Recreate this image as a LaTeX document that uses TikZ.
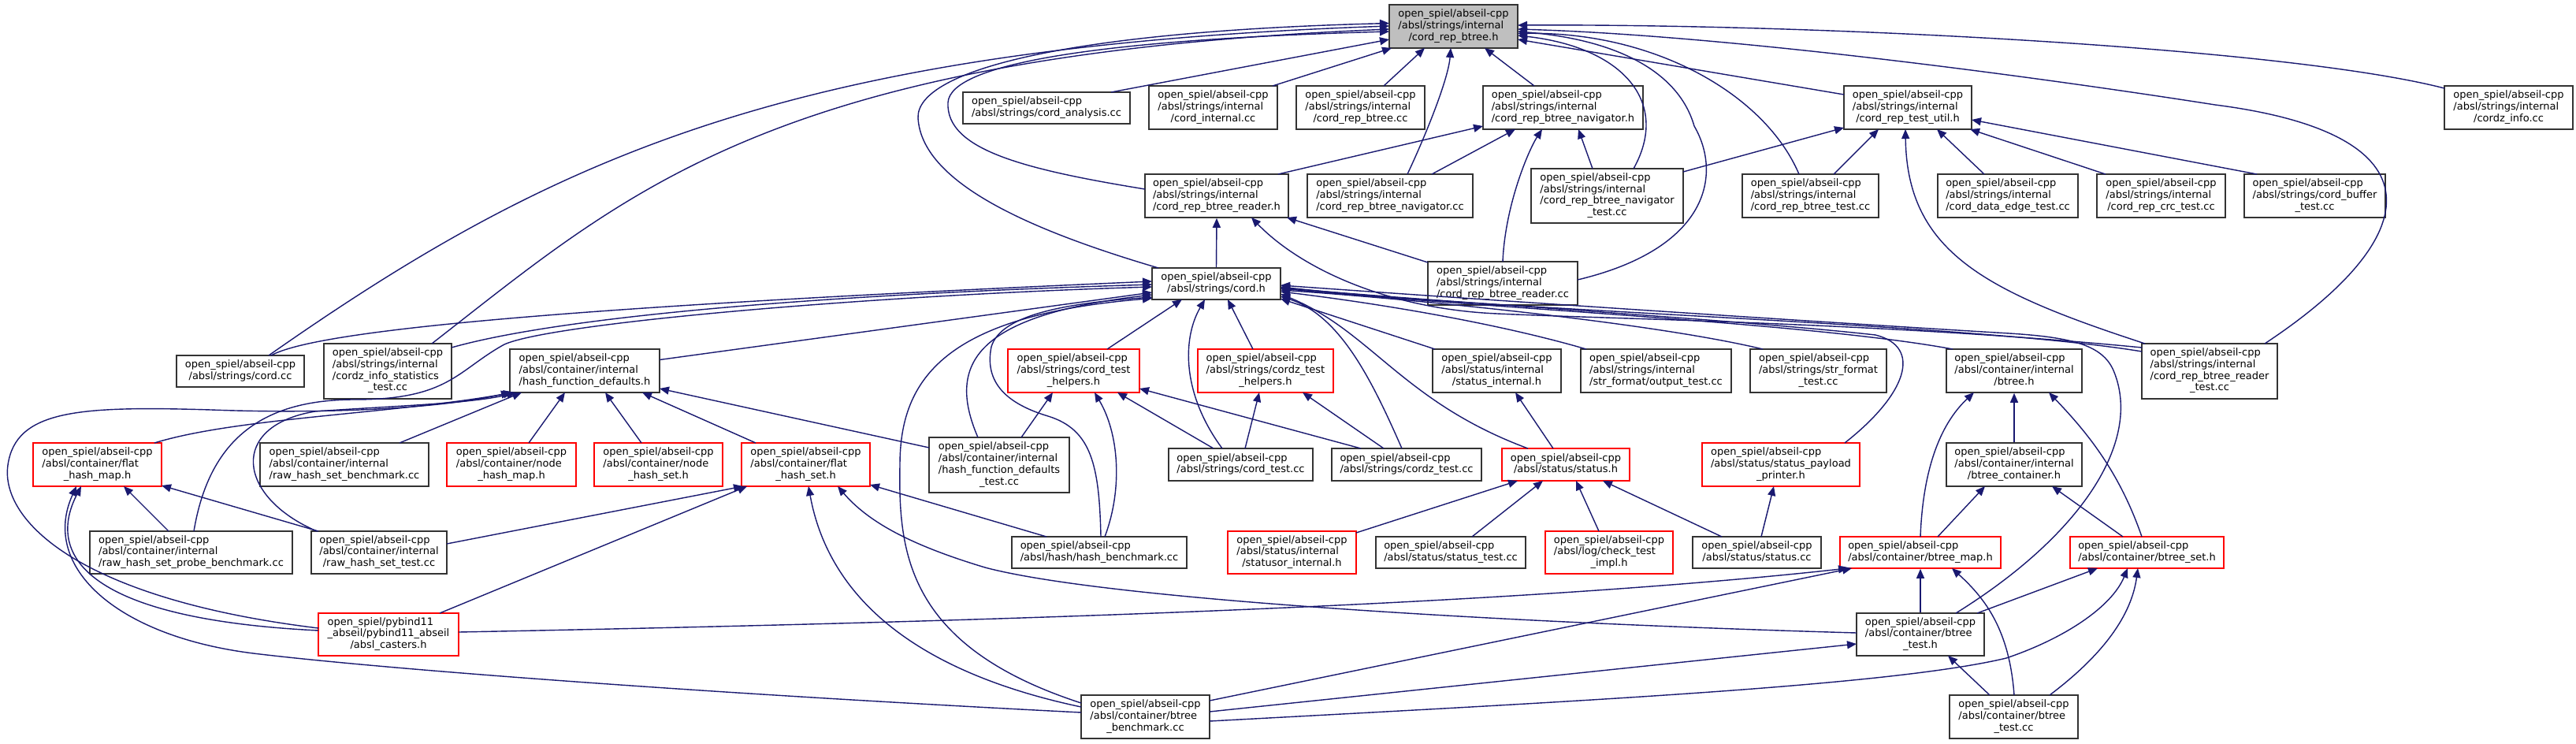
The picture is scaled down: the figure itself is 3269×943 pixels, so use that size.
\documentclass[tikz,border=0pt]{standalone}
\usepackage{fontspec}
\setmainfont{DejaVu Sans}
\usetikzlibrary{arrows.meta}
\definecolor{edgec}{HTML}{191970}
\definecolor{boxc}{HTML}{333333}
\definecolor{mainfill}{HTML}{BFBFBF}
\newcommand{\lab}[2]{\begin{tabular}{@{}l@{}}#1\\\multicolumn{1}{@{}c@{}}{#2}\end{tabular}}
\newcommand{\osa}{open\_spiel/abseil-cpp}
\newcommand{\asi}{/absl/strings/internal}
\newcommand{\aci}{/absl/container/internal}
\tikzset{
  box/.style={draw=boxc, line width=1.6pt, fill=white, inner sep=0pt, font=\fontsize{13}{14.7}\selectfont},
  rbox/.style={box, draw=red},
  conn/.style={draw=edgec, line width=1.4pt, -{Triangle[length=12pt,width=10pt]}},
}
\begin{document}
\begin{tikzpicture}[x=1pt,y=-1pt]
\fill[white] (0,0) rectangle (3269,943);
\useasboundingbox (0,0) rectangle (3269,943);
% nodes
\node[box, fill=mainfill, minimum width=163pt, minimum height=55pt] (main) at (1844.5,33.5) {\lab{\osa\\\asi}{/cord\_rep\_btree.h}};
\node[box, minimum width=212pt, minimum height=40pt] (cordanalysis) at (1328,137) {\lab{\osa}{/absl/strings/cord\_analysis.cc}};
\node[box, minimum width=163pt, minimum height=55pt] (cordinternal) at (1539.5,136.5) {\lab{\osa\\\asi}{/cord\_internal.cc}};
\node[box, minimum width=163pt, minimum height=55pt] (btreecc) at (1726.5,136.5) {\lab{\osa\\\asi}{/cord\_rep\_btree.cc}};
\node[box, minimum width=203pt, minimum height=55pt] (navh) at (1983.5,136.5) {\lab{\osa\\\asi}{/cord\_rep\_btree\_navigator.h}};
\node[box, minimum width=162pt, minimum height=55pt] (testutil) at (2421,136.5) {\lab{\osa\\\asi}{/cord\_rep\_test\_util.h}};
\node[box, minimum width=163pt, minimum height=55pt] (cordzinfo) at (3183.5,136.5) {\lab{\osa\\\asi}{/cordz\_info.cc}};
\node[box, minimum width=182pt, minimum height=55pt] (readerh) at (1544,248.5) {\lab{\osa\\\asi}{/cord\_rep\_btree\_reader.h}};
\node[box, minimum width=210pt, minimum height=55pt] (navcc) at (1764,248.5) {\lab{\osa\\\asi}{/cord\_rep\_btree\_navigator.cc}};
\node[box, minimum width=193pt, minimum height=69pt] (navtest) at (2039.5,248.5) {\lab{\osa\\\asi\\/cord\_rep\_btree\_navigator}{\_test.cc}};
\node[box, minimum width=173pt, minimum height=55pt] (btreetest) at (2297.5,248.5) {\lab{\osa\\\asi}{/cord\_rep\_btree\_test.cc}};
\node[box, minimum width=178pt, minimum height=55pt] (dataedge) at (2548,248.5) {\lab{\osa\\\asi}{/cord\_data\_edge\_test.cc}};
\node[box, minimum width=163pt, minimum height=55pt] (crctest) at (2742.5,248.5) {\lab{\osa\\\asi}{/cord\_rep\_crc\_test.cc}};
\node[box, minimum width=179pt, minimum height=55pt] (buffertest) at (2937.5,248.5) {\lab{\osa\\/absl/strings/cord\_buffer}{\_test.cc}};
\node[box, minimum width=190pt, minimum height=55pt] (readercc) at (1907,359.5) {\lab{\osa\\\asi}{/cord\_rep\_btree\_reader.cc}};
\node[box, minimum width=163pt, minimum height=40pt] (cordh) at (1543.5,360) {\lab{\osa}{/absl/strings/cord.h}};
\node[box, minimum width=162pt, minimum height=40pt] (cordcc) at (305,471) {\lab{\osa}{/absl/strings/cord.cc}};
\node[box, minimum width=162pt, minimum height=70pt] (cordzstat) at (492,471) {\lab{\osa\\\asi\\/cordz\_info\_statistics}{\_test.cc}};
\node[box, minimum width=190pt, minimum height=55pt] (hfd) at (742,470.5) {\lab{\osa\\\aci}{/hash\_function\_defaults.h}};
\node[rbox, minimum width=167pt, minimum height=55pt] (cordtesthelp) at (1362.5,470.5) {\lab{\osa\\/absl/strings/cord\_test}{\_helpers.h}};
\node[rbox, minimum width=172pt, minimum height=55pt] (cordztesthelp) at (1606,470.5) {\lab{\osa\\/absl/strings/cordz\_test}{\_helpers.h}};
\node[box, minimum width=163pt, minimum height=55pt] (statusinternal) at (1899.5,470.5) {\lab{\osa\\/absl/status/internal}{/status\_internal.h}};
\node[box, minimum width=191pt, minimum height=55pt] (outputtest) at (2101.5,470.5) {\lab{\osa\\\asi}{/str\_format/output\_test.cc}};
\node[box, minimum width=173pt, minimum height=55pt] (strformattest) at (2307.5,470.5) {\lab{\osa\\/absl/strings/str\_format}{\_test.cc}};
\node[box, minimum width=172pt, minimum height=55pt] (btreeh) at (2556,470.5) {\lab{\osa\\\aci}{/btree.h}};
\node[box, minimum width=172pt, minimum height=70pt] (readertest) at (2804,471) {\lab{\osa\\\asi\\/cord\_rep\_btree\_reader}{\_test.cc}};
\node[rbox, minimum width=163pt, minimum height=55pt] (flathashmap) at (123.5,589.5) {\lab{\osa\\/absl/container/flat}{\_hash\_map.h}};
\node[box, minimum width=214pt, minimum height=55pt] (rawbench) at (437,589.5) {\lab{\osa\\\aci}{/raw\_hash\_set\_benchmark.cc}};
\node[rbox, minimum width=164pt, minimum height=55pt] (nodehashmap) at (649,589.5) {\lab{\osa\\/absl/container/node}{\_hash\_map.h}};
\node[rbox, minimum width=163pt, minimum height=55pt] (nodehashset) at (835.5,589.5) {\lab{\osa\\/absl/container/node}{\_hash\_set.h}};
\node[rbox, minimum width=163pt, minimum height=55pt] (flathashset) at (1022.5,589.5) {\lab{\osa\\/absl/container/flat}{\_hash\_set.h}};
\node[box, minimum width=178pt, minimum height=70pt] (hfdtest) at (1268,590) {\lab{\osa\\\aci\\/hash\_function\_defaults}{\_test.cc}};
\node[box, minimum width=183pt, minimum height=41pt] (cordtest) at (1574.5,589.5) {\lab{\osa}{/absl/strings/cord\_test.cc}};
\node[box, minimum width=190pt, minimum height=41pt] (cordztest) at (1785,589.5) {\lab{\osa}{/absl/strings/cordz\_test.cc}};
\node[rbox, minimum width=162pt, minimum height=41pt] (statush) at (1987,589.5) {\lab{\osa}{/absl/status/status.h}};
\node[rbox, minimum width=200pt, minimum height=55pt] (payload) at (2260,589.5) {\lab{\osa\\/absl/status/status\_payload}{\_printer.h}};
\node[box, minimum width=172pt, minimum height=55pt] (btreecontainer) at (2556,589.5) {\lab{\osa\\\aci}{/btree\_container.h}};
\node[box, minimum width=257pt, minimum height=54pt] (probe) at (242.5,701) {\lab{\osa\\\aci}{/raw\_hash\_set\_probe\_benchmark.cc}};
\node[box, minimum width=172pt, minimum height=54pt] (rawtest) at (481,701) {\lab{\osa\\\aci}{/raw\_hash\_set\_test.cc}};
\node[box, minimum width=222pt, minimum height=40pt] (hashbench) at (1395,701) {\lab{\osa}{/absl/hash/hash\_benchmark.cc}};
\node[rbox, minimum width=163pt, minimum height=54pt] (statusor) at (1639.5,701) {\lab{\osa\\/absl/status/internal}{/statusor\_internal.h}};
\node[box, minimum width=190pt, minimum height=40pt] (statustest) at (1841,701) {\lab{\osa}{/absl/status/status\_test.cc}};
\node[rbox, minimum width=162pt, minimum height=54pt] (checktest) at (2042,701) {\lab{\osa\\/absl/log/check\_test}{\_impl.h}};
\node[box, minimum width=163pt, minimum height=40pt] (statuscc) at (2229.5,701) {\lab{\osa}{/absl/status/status.cc}};
\node[rbox, minimum width=204pt, minimum height=40pt] (btreemap) at (2437,701) {\lab{\osa}{/absl/container/btree\_map.h}};
\node[rbox, minimum width=195pt, minimum height=40pt] (btreeset) at (2724.5,701) {\lab{\osa}{/absl/container/btree\_set.h}};
\node[rbox, minimum width=178pt, minimum height=54pt] (casters) at (493,805) {\lab{open\_spiel/pybind11\\\_abseil/pybind11\_abseil}{/absl\_casters.h}};
\node[box, minimum width=162pt, minimum height=54pt] (btreetesth) at (2437,805) {\lab{\osa\\/absl/container/btree}{\_test.h}};
\node[box, minimum width=163pt, minimum height=55pt] (btreebench) at (1453.5,909.5) {\lab{\osa\\/absl/container/btree}{\_benchmark.cc}};
\node[box, minimum width=163pt, minimum height=55pt] (btreetestcc) at (2555.5,909.5) {\lab{\osa\\/absl/container/btree}{\_test.cc}};
% edges into main
\draw[conn] ([shift={(36,-20)}]cordcc.center) .. controls (700,200) and (1000,60) .. ([shift={(-81.5,-0.5)}]main.center);
\draw[conn] ([shift={(56,-35)}]cordzstat.center) .. controls (800,240) and (980,70) .. ([shift={(-81.5,3.5)}]main.center);
\draw[conn] ([shift={(82,-20)}]cordanalysis.center) -- ([shift={(-81.5,16.5)}]main.center);
\draw[conn] ([shift={(75.5,-27.5)}]cordinternal.center) -- ([shift={(-78.5,27.5)}]main.center);
\draw[conn] ([shift={(29.5,-27.5)}]btreecc.center) -- ([shift={(-36.5,27.5)}]main.center);
\draw[conn] ([shift={(22,-27.5)}]navcc.center) .. controls (1810,170) and (1838,100) .. ([shift={(-3.5,27.5)}]main.center);
\draw[conn] ([shift={(-36.5,-27.5)}]navh.center) -- ([shift={(39.5,27.5)}]main.center);
\draw[conn] ([shift={(33.5,-34.5)}]navtest.center) .. controls (2120,130) and (2060,60) .. ([shift={(81.5,11.5)}]main.center);
\draw[conn] ([shift={(95,-4.5)}]readercc.center) .. controls (2170,315) and (2185,220) .. (2150,160) .. controls (2130,90) and (2050,50) .. ([shift={(81.5,6.5)}]main.center);
\draw[conn] ([shift={(-14.5,-27.5)}]btreetest.center) .. controls (2240,120) and (2100,40) .. ([shift={(81.5,9)}]main.center);
\draw[conn] ([shift={(-81,-16.5)}]testutil.center) -- ([shift={(81.5,16.5)}]main.center);
\draw[conn] ([shift={(70,-35)}]readertest.center) .. controls (3080,300) and (3100,170) .. (2811,133) .. controls (2600,100) and (2200,45) .. ([shift={(81.5,3.5)}]main.center);
\draw[conn] ([shift={(-81.5,-24.5)}]cordzinfo.center) .. controls (2900,60) and (2300,30) .. ([shift={(81.5,-1.5)}]main.center);
\draw[conn] ([shift={(-91,-8.5)}]readerh.center) .. controls (1300,215) and (1200,190) .. (1203,130) .. controls (1206,80) and (1400,50) .. ([shift={(-81.5,6.5)}]main.center);
\draw[conn] ([shift={(-73.5,-20)}]cordh.center) .. controls (1300,290) and (1170,230) .. (1165,150) .. controls (1162,90) and (1350,40) .. ([shift={(-81.5,-4)}]main.center);
% navh, readerh, testutil
\draw[conn] ([shift={(78,-27.5)}]readerh.center) -- ([shift={(-101.5,23.5)}]navh.center);
\draw[conn] ([shift={(53,-27.5)}]navcc.center) -- ([shift={(-60.5,27.5)}]navh.center);
\draw[conn] ([shift={(0,-27.5)}]readercc.center) .. controls (1910,260) and (1940,190) .. ([shift={(-26.5,27.5)}]navh.center);
\draw[conn] ([shift={(-18.5,-34.5)}]navtest.center) -- ([shift={(19.5,27.5)}]navh.center);
\draw[conn] (cordh.north) -- (readerh.south);
\draw[conn] ([shift={(-95,-26.5)}]readercc.center) -- ([shift={(89,27.5)}]readerh.center);
\draw[conn] ([shift={(-86,-30)}]readertest.center) .. controls (2400,410) and (2050,405) .. (1900,398) .. controls (1760,392) and (1650,340) .. ([shift={(44,27.5)}]readerh.center);
\draw[conn] ([shift={(96.5,-30.5)}]navtest.center) -- ([shift={(-81,25.5)}]testutil.center);
\draw[conn] ([shift={(29.5,-27.5)}]btreetest.center) -- ([shift={(-37,27.5)}]testutil.center);
\draw[conn] ([shift={(-30,-27.5)}]dataedge.center) -- ([shift={(37,27.5)}]testutil.center);
\draw[conn] ([shift={(-70.5,-27.5)}]crctest.center) -- ([shift={(79,27.5)}]testutil.center);
\draw[conn] ([shift={(-73.5,-27.5)}]buffertest.center) -- ([shift={(81,15.5)}]testutil.center);
\draw[conn] ([shift={(-82,-35)}]readertest.center) .. controls (2520,370) and (2420,320) .. ([shift={(-3,27.5)}]testutil.center);
% into cord.h
\draw[conn] ([shift={(39,-20)}]cordcc.center) .. controls (400,420) and (700,390) .. ([shift={(-81.5,-3)}]cordh.center);
\draw[conn] ([shift={(81,-30)}]cordzstat.center) .. controls (700,405) and (1000,375) .. ([shift={(-81.5,1)}]cordh.center);
\draw[conn] ([shift={(3.5,-27)}]probe.center) .. controls (265,560) and (330,507) .. (450,507) .. controls (570,507) and (580,470) .. (640,437) .. controls (700,410) and (1100,375) .. ([shift={(-81.5,4)}]cordh.center);
\draw[conn] ([shift={(95,-14)}]hfd.center) -- ([shift={(-81.5,11)}]cordh.center);
\draw[conn] ([shift={(42.5,-27.5)}]cordtesthelp.center) -- ([shift={(-43.5,20)}]cordh.center);
\draw[conn] ([shift={(-16,-27.5)}]cordztesthelp.center) -- ([shift={(14.5,20)}]cordh.center);
\draw[conn] ([shift={(-23.5,-20.5)}]cordtest.center) .. controls (1500,500) and (1500,430) .. ([shift={(-14.5,20)}]cordh.center);
\draw[conn] ([shift={(-27,-35)}]hfdtest.center) .. controls (1200,460) and (1240,400) .. ([shift={(-81.5,14)}]cordh.center);
\draw[conn] ([shift={(2,-20)}]hashbench.center) .. controls (1395,590) and (1385,545) .. (1330,528) .. controls (1270,510) and (1250,480) .. (1258,440) .. controls (1270,400) and (1350,385) .. ([shift={(-81.5,17)}]cordh.center);
\draw[conn] ([shift={(-81.5,-17.5)}]btreebench.center) .. controls (1150,820) and (1140,700) .. (1142,590) .. controls (1142,480) and (1200,400) .. ([shift={(-81.5,18.5)}]cordh.center);
\draw[conn] ([shift={(-6,-20.5)}]cordztest.center) .. controls (1740,480) and (1700,400) .. ([shift={(81.5,16)}]cordh.center);
\draw[conn] ([shift={(-48,-20.5)}]statush.center) .. controls (1780,510) and (1740,420) .. ([shift={(81.5,13)}]cordh.center);
\draw[conn] ([shift={(-78.5,-27.5)}]statusinternal.center) -- ([shift={(81.5,19)}]cordh.center);
\draw[conn] ([shift={(-88.5,-27.5)}]outputtest.center) .. controls (1900,410) and (1750,385) .. ([shift={(81.5,10)}]cordh.center);
\draw[conn] ([shift={(-70.5,-27.5)}]strformattest.center) .. controls (2100,410) and (1800,380) .. ([shift={(81.5,8)}]cordh.center);
\draw[conn] ([shift={(-78,-27.5)}]btreeh.center) .. controls (2300,410) and (1900,392) .. ([shift={(81.5,6)}]cordh.center);
\draw[conn] ([shift={(-86,-25)}]readertest.center) .. controls (2500,410) and (1900,395) .. ([shift={(81.5,4)}]cordh.center);
\draw[conn] ([shift={(45,-27)}]btreetesth.center) .. controls (2640,680) and (2720,560) .. (2682,470) .. controls (2668,438) and (2630,428) .. (2550,423) .. controls (2250,405) and (1850,378) .. ([shift={(81.5,2)}]cordh.center);
\draw[conn] ([shift={(81,-27.5)}]payload.center) .. controls (2420,500) and (2440,440) .. (2380,425) .. controls (2200,405) and (1850,385) .. ([shift={(81.5,5)}]cordh.center);
% into hash_function_defaults.h
\draw[conn] ([shift={(72.5,-27.5)}]flathashmap.center) .. controls (300,530) and (500,525) .. ([shift={(-91,27.5)}]hfd.center);
\draw[conn] ([shift={(70,-27.5)}]rawbench.center) -- ([shift={(-80,27.5)}]hfd.center);
\draw[conn] ([shift={(22,-27.5)}]nodehashmap.center) -- ([shift={(-25,27.5)}]hfd.center);
\draw[conn] ([shift={(-21.5,-27.5)}]nodehashset.center) -- ([shift={(26,27.5)}]hfd.center);
\draw[conn] ([shift={(-63.5,-27.5)}]flathashset.center) -- ([shift={(73,27.5)}]hfd.center);
\draw[conn] ([shift={(-89,-22)}]hfdtest.center) -- ([shift={(95,22.5)}]hfd.center);
\draw[conn] ([shift={(-79,-27)}]rawtest.center) .. controls (300,630) and (290,540) .. (400,522) .. controls (500,515) and (600,512) .. ([shift={(-87,27.5)}]hfd.center);
\draw[conn] ([shift={(-89,-8)}]casters.center) .. controls (100,760) and (0,660) .. (10,590) .. controls (20,520) and (100,515) .. (268,520) .. controls (400,525) and (550,520) .. ([shift={(-94,27.5)}]hfd.center);
% into flat_hash_map.h / flat_hash_set.h
\draw[conn] ([shift={(-28.5,-27)}]probe.center) -- ([shift={(33.5,27.5)}]flathashmap.center);
\draw[conn] ([shift={(-77,-27)}]rawtest.center) -- ([shift={(81.5,26.5)}]flathashmap.center);
\draw[conn] ([shift={(-89,-5)}]casters.center) .. controls (100,785) and (60,700) .. ([shift={(-20.5,27.5)}]flathashmap.center);
\draw[conn] ([shift={(-81.5,-5.5)}]btreebench.center) .. controls (900,880) and (500,850) .. (330,830) .. controls (150,810) and (50,720) .. ([shift={(-26.5,27.5)}]flathashmap.center);
\draw[conn] ([shift={(86,-11)}]rawtest.center) -- ([shift={(-79.5,27.5)}]flathashset.center);
\draw[conn] ([shift={(65,-27)}]casters.center) -- ([shift={(-74.5,27.5)}]flathashset.center);
\draw[conn] ([shift={(-81.5,-12.5)}]btreebench.center) .. controls (1150,850) and (1050,750) .. ([shift={(3.5,27.5)}]flathashset.center);
\draw[conn] ([shift={(-81,-2)}]btreetesth.center) .. controls (1900,790) and (1400,760) .. (1250,720) .. controls (1150,690) and (1100,660) .. ([shift={(40.5,27.5)}]flathashset.center);
\draw[conn] ([shift={(-67,-20)}]hashbench.center) -- ([shift={(81.5,25.5)}]flathashset.center);
% cord test helpers
\draw[conn] ([shift={(28,-35)}]hfdtest.center) -- ([shift={(-26.5,27.5)}]cordtesthelp.center);
\draw[conn] ([shift={(7,-20)}]hashbench.center) .. controls (1425,620) and (1420,550) .. ([shift={(26.5,27.5)}]cordtesthelp.center);
\draw[conn] ([shift={(-34.5,-20.5)}]cordtest.center) -- ([shift={(55.5,27.5)}]cordtesthelp.center);
\draw[conn] ([shift={(-58,-20.5)}]cordztest.center) -- ([shift={(83.5,22.5)}]cordtesthelp.center);
\draw[conn] ([shift={(5.5,-20.5)}]cordtest.center) -- ([shift={(-8,27.5)}]cordztesthelp.center);
\draw[conn] ([shift={(-29,-20.5)}]cordztest.center) -- ([shift={(47,27.5)}]cordztesthelp.center);
% status
\draw[conn] ([shift={(81.5,-25)}]statusor.center) -- ([shift={(-61,20.5)}]statush.center);
\draw[conn] ([shift={(27,-20)}]statustest.center) -- ([shift={(-29,20.5)}]statush.center);
\draw[conn] ([shift={(-13,-27)}]checktest.center) -- ([shift={(13,20.5)}]statush.center);
\draw[conn] ([shift={(-44.5,-20)}]statuscc.center) -- ([shift={(47,20.5)}]statush.center);
\draw[conn] ([shift={(-16,-20.5)}]statush.center) -- ([shift={(23.5,27.5)}]statusinternal.center);
\draw[conn] ([shift={(5.5,-20)}]statuscc.center) -- ([shift={(-9,27.5)}]payload.center);
% btree
\draw[conn] (btreecontainer.north) -- (btreeh.south);
\draw[conn] ([shift={(0,-20)}]btreemap.center) .. controls (2440,600) and (2460,540) .. ([shift={(-51,27.5)}]btreeh.center);
\draw[conn] ([shift={(-6.5,-20)}]btreeset.center) .. controls (2690,600) and (2650,550) .. ([shift={(44,27.5)}]btreeh.center);
\draw[conn] ([shift={(22,-20)}]btreemap.center) -- ([shift={(-37,27.5)}]btreecontainer.center);
\draw[conn] ([shift={(-30.5,-20)}]btreeset.center) -- ([shift={(48,27.5)}]btreecontainer.center);
\draw[conn] (btreetesth.north) -- (btreemap.south);
\draw[conn] ([shift={(81.5,-20.5)}]btreebench.center) -- ([shift={(-87,20)}]btreemap.center);
\draw[conn] ([shift={(0.5,-27.5)}]btreetestcc.center) .. controls (2550,800) and (2520,760) .. ([shift={(40,20)}]btreemap.center);
\draw[conn] ([shift={(89,-3)}]casters.center) .. controls (1200,790) and (1900,770) .. ([shift={(-92,20)}]btreemap.center);
\draw[conn] ([shift={(72,-27)}]btreetesth.center) -- ([shift={(-62.5,20)}]btreeset.center);
\draw[conn] ([shift={(81.5,5.5)}]btreebench.center) .. controls (2000,890) and (2400,870) .. (2546,835) .. controls (2620,810) and (2680,770) .. ([shift={(-24.5,20)}]btreeset.center);
\draw[conn] ([shift={(45.5,-27.5)}]btreetestcc.center) .. controls (2670,830) and (2705,780) .. ([shift={(-11.5,20)}]btreeset.center);
\draw[conn] ([shift={(81.5,-6.5)}]btreebench.center) -- ([shift={(-81,12)}]btreetesth.center);
\draw[conn] ([shift={(-30.5,-27.5)}]btreetestcc.center) -- ([shift={(35,27)}]btreetesth.center);
\end{tikzpicture}
\end{document}
